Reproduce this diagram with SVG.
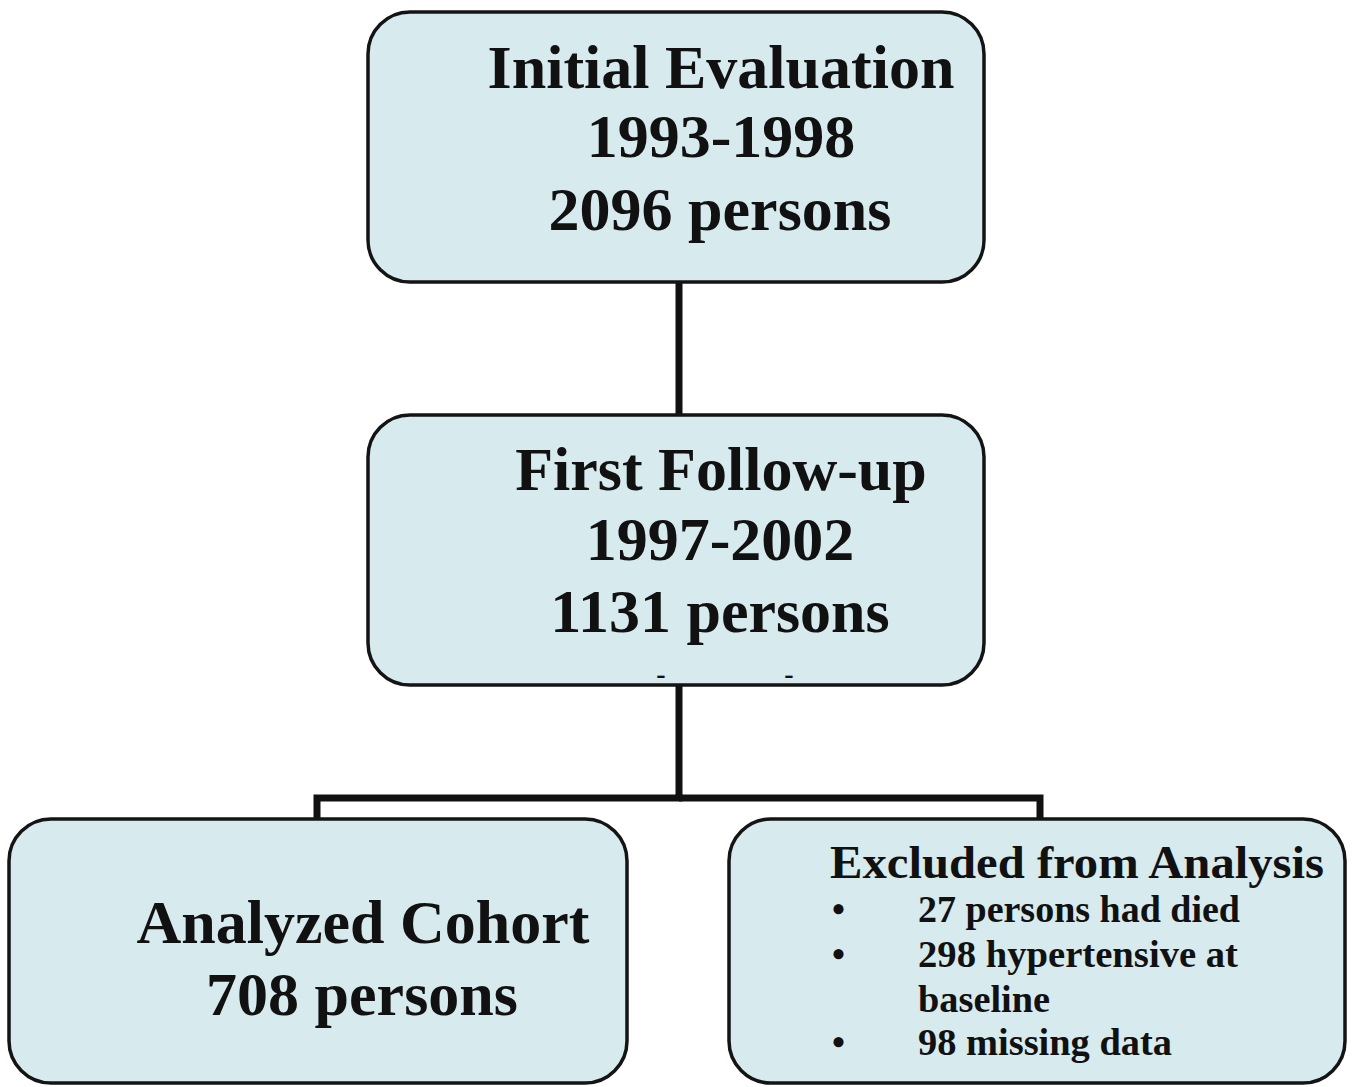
<svg xmlns="http://www.w3.org/2000/svg" width="1353" height="1087" viewBox="0 0 1353 1087">
<style>
.box{fill:#d7eaee;stroke:#141414;stroke-width:3.5}
.t{font-family:"Liberation Serif","Times New Roman",serif;font-weight:bold;fill:#111;text-anchor:middle}
.big{font-size:62px}
.hd{font-size:46px}
.it{font-size:37px;text-anchor:start}
.dash{font-size:28px}
.conn{fill:none;stroke:#111;stroke-width:7}
</style>
<rect width="1353" height="1087" fill="#fff"/>
<g id="connectors">
<line class="conn" x1="679" y1="282" x2="679" y2="416"/>
<polyline class="conn" points="679,685 679,798 317,798 317,820"/>
<polyline class="conn" points="679,798 1040,798 1040,820"/>
</g>
<g id="initial-evaluation">
<rect class="box" x="368" y="12" width="616" height="270" rx="42"/>
<text class="t big" x="721" y="88">Initial Evaluation</text>
<text class="t big" x="721" y="157">1993-1998</text>
<text class="t big" x="720" y="230">2096 persons</text>
</g>
<g id="first-follow-up">
<rect class="box" x="368" y="415" width="616" height="270" rx="42"/>
<text class="t big" x="721" y="490">First Follow-up</text>
<text class="t big" x="720" y="560">1997-2002</text>
<text class="t big" x="720" y="632">1131 persons</text>
<text class="t dash" x="661" y="683">-</text>
<text class="t dash" x="789" y="683">-</text>
</g>
<g id="analyzed-cohort">
<rect class="box" x="9" y="819" width="618" height="264" rx="42"/>
<text class="t big" x="363" y="943">Analyzed Cohort</text>
<text class="t big" x="362" y="1015">708 persons</text>
</g>
<g id="excluded">
<rect class="box" x="729" y="819" width="616" height="264" rx="42"/>
<text class="t hd" x="1077" y="878" textLength="494" lengthAdjust="spacingAndGlyphs">Excluded from Analysis</text>
<text class="t it" x="832" y="922">•</text>
<text class="t it" x="918" y="922" textLength="322" lengthAdjust="spacingAndGlyphs">27 persons had died</text>
<text class="t it" x="832" y="967">•</text>
<text class="t it" x="918" y="967" textLength="320" lengthAdjust="spacingAndGlyphs">298 hypertensive at</text>
<text class="t it" x="918" y="1012" textLength="132" lengthAdjust="spacingAndGlyphs">baseline</text>
<text class="t it" x="832" y="1055">•</text>
<text class="t it" x="918" y="1055" textLength="254" lengthAdjust="spacingAndGlyphs">98 missing data</text>
</g>
</svg>
